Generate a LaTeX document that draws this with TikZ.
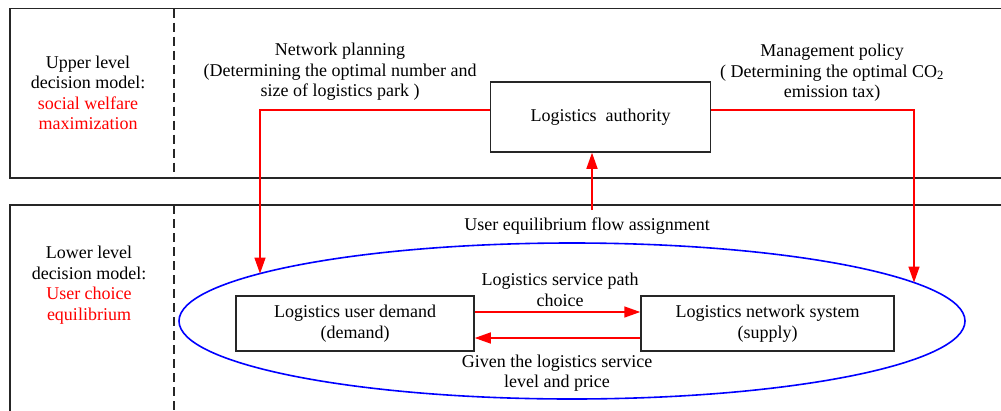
\documentclass[tikz,border=0pt]{standalone}
\usepackage{fontspec}
\setmainfont{Liberation Serif}
\usetikzlibrary{arrows.meta,shapes.geometric}

\begin{document}
\begin{tikzpicture}[x=1pt,y=-1pt,
  font=\fontsize{18}{20.5}\selectfont,
  frame/.style={draw=black!85,line width=1.5pt},
  divider/.style={black!85,line width=1.5pt,dash pattern=on 9pt off 5pt},
  box/.style={draw=black!85,line width=1.5pt,align=center,inner sep=0pt},
  link/.style={red,line width=1.5pt,-{Triangle[length=16pt,width=11pt]}},
  lbl/.style={align=center,inner sep=0pt}]
  \clip (0,0) rectangle (1001,410);

  % the two levels
  \draw[frame] (10,8.5) rectangle (1020,178);
  \draw[frame] (10,205) rectangle (1020,430);
  \draw[divider] (174,8.5) -- (174,178);
  \draw[divider] (174,205) -- (174,410);

  \node[lbl] (upper) at (88,93) {Upper level\\decision model:\\\textcolor{red}{social welfare}\\\textcolor{red}{maximization}};
  \node[lbl] (lower) at (89,285) {Lower level\\decision model:\\\textcolor{red}{User choice}\\\textcolor{red}{equilibrium}};

  % boxes
  \node[box, minimum width=220pt, minimum height=70pt] (authority) at (600.5,117) {Logistics\ \ authority};
  \node[draw=blue, line width=1.6pt, ellipse, minimum width=786pt, minimum height=156pt, inner sep=0pt] (market) at (572,321) {};
  \node[box, minimum width=238pt, minimum height=55pt] (demand) at (355,323.5) {Logistics user demand\\(demand)};
  \node[box, minimum width=253pt, minimum height=55pt] (supply) at (767.5,323.5) {Logistics network system\\(supply)};

  \coordinate (in1) at (260,273.6);
  \coordinate (in2) at (914,282.5);
  \coordinate (ue) at (592,210);

  % arrows
  \draw[link] ([yshift=7pt]authority.west) -| (in1);
  \draw[link] ([yshift=7pt]authority.east) -| (in2);
  \draw[link] (ue) -- (ue |- authority.south);
  \draw[link] ([yshift=11.5pt]demand.east) -- ([yshift=11.5pt]supply.west);
  \draw[link] ([yshift=-14.5pt]supply.west) -- ([yshift=-14.5pt]demand.east);

  % labels
  \node[lbl] (planning) at (340,72) {Network planning\\(Determining the optimal number and\\size of logistics park )};
  \node[lbl] (policy) at (832,73) {Management policy\\( Determining the optimal CO\textsubscript{2}\\emission tax)};
  \node[lbl] (flow) at (587,226) {User equilibrium flow assignment};
  \node[lbl] (path) at (560,290) {Logistics service path\\choice};
  \node[lbl] (given) at (557,373) {Given the logistics service\\level and price};
\end{tikzpicture}
\end{document}
